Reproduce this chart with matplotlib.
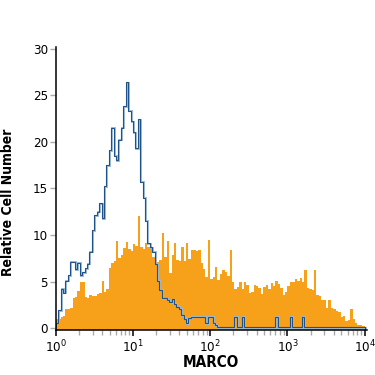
import numpy as np
import matplotlib
matplotlib.use("Agg")
import matplotlib.pyplot as plt
from matplotlib.ticker import LogLocator, FixedLocator
from matplotlib import transforms

plt.rcParams['font.family'] = ['Liberation Sans Narrow', 'DejaVu Sans']
plt.rcParams['font.stretch'] = 'condensed'
plt.rcParams['mathtext.fontset'] = 'custom'
plt.rcParams['mathtext.rm'] = 'Liberation Sans Narrow'
plt.rcParams['mathtext.it'] = 'Liberation Sans Narrow'

# bins: 1/32 decade from 10^0 to 10^4
bins_per_decade = 32
n_decades = 4

# MARCO stained (orange, filled)
marco = [1.0, 1.0, 1.2, 1.3, 2.1, 2.1, 2.2, 3.2, 3.3, 4.0,
         5.0, 5.0, 3.3, 3.2, 3.6, 3.4, 3.5, 3.7, 3.8, 5.1,
         3.9, 4.2, 6.4, 7.0, 7.2, 9.3, 7.5, 7.8, 8.6, 9.2,
         8.5, 8.3, 9.0, 8.8, 12.0, 8.7, 8.5, 9.1, 8.7, 9.0,
         7.6, 7.3, 7.1, 7.3, 10.2, 7.6, 9.3, 5.9, 7.8, 9.1,
         7.3, 7.2, 8.7, 7.2, 9.1, 7.4, 8.4, 8.4, 8.3, 8.4,
         7.0, 6.3, 5.5, 9.5, 5.3, 5.5, 6.6, 5.2, 5.8, 6.2,
         6.0, 5.6, 8.4, 4.9, 4.2, 4.4, 5.0, 4.2, 5.0, 4.6,
         3.8, 3.9, 4.6, 4.5, 4.3, 3.7, 4.4, 4.6, 4.2, 4.8,
         4.5, 5.1, 4.7, 4.3, 3.6, 3.9, 4.5, 4.9, 5.0, 5.3,
         5.1, 5.4, 4.9, 6.2, 4.3, 4.2, 4.1, 6.2, 3.6, 3.4,
         3.0, 3.0, 2.2, 3.0, 2.2, 2.1, 1.8, 1.7, 1.2, 1.3,
         0.8, 0.9, 2.1, 1.0, 0.5, 0.3, 0.3, 0.2]

# isotype control (blue outline)
control = [0.6, 1.9, 4.2, 3.8, 5.1, 5.7, 7.1, 7.1, 6.3, 7.0,
           5.7, 6.0, 6.4, 6.9, 8.2, 10.5, 12.1, 12.5, 13.4, 11.8,
           15.2, 17.5, 19.1, 21.5, 18.5, 18.0, 20.2, 21.5, 23.8, 26.4,
           23.3, 22.2, 21.0, 19.3, 22.4, 15.7, 14.0, 11.5, 9.1, 8.7,
           8.2, 6.9, 5.1, 4.1, 3.2, 3.2, 3.0, 2.8, 3.1, 2.6,
           2.3, 2.1, 1.4, 1.0, 0.5, 1.1, 1.2, 1.2, 1.2, 1.2,
           1.2, 1.2, 0.5, 1.2, 1.2, 0.5, 0.3, 0.1, 0.1, 0.1,
           0.1, 0.1, 0.1, 0.1, 1.2, 0.1, 0.1, 1.2, 0.1, 0.1,
           0.1, 0.1, 0.1, 0.1, 0.1, 0.1, 0.1, 0.1, 0.1, 0.1,
           0.1, 1.2, 0.1, 0.1, 0.1, 0.1, 0.1, 1.2, 0.1, 0.1,
           0.1, 0.1, 1.2, 0.1, 0.1, 0.1, 0.1, 0.1, 0.1, 0.1,
           0.1, 0.1, 0.1, 0.1, 0.1, 0.1, 0.1, 0.1, 0.1, 0.1,
           0.1, 0.1, 0.1, 0.1, 0.1, 0.1, 0.1, 0.1]

y_ticks = [0, 5, 10, 15, 20, 25, 30]

edges = 10 ** (np.arange(bins_per_decade * n_decades + 1) / bins_per_decade)
y0 = -0.2

fig = plt.figure(figsize=(3.75, 3.75), dpi=100)
ax = fig.add_axes([0.1485, 0.12, 0.8302, 0.7555])

ax.stairs(marco, edges, baseline=y0, fill=True, color='#F7A11A', lw=0)

# light blue shadow, then the dark blue line
shadow = transforms.offset_copy(ax.transData, fig=fig, x=1.0, y=-0.5, units='dots')
ax.stairs(control, edges, baseline=y0, fill=False, color='#9DBDD8', lw=1.4,
          transform=shadow)
ax.stairs(control, edges, baseline=y0, fill=False, color='#1F5289', lw=0.8)

ax.set_xscale('log')
ax.set_xlim(1, 10 ** 4.03)
ax.set_ylim(y0, 30.2)

ax.spines['top'].set_visible(False)
ax.spines['right'].set_visible(False)
ax.spines['left'].set_linewidth(1.1)
ax.spines['bottom'].set_linewidth(1.1)

ax.xaxis.set_major_locator(FixedLocator([1, 10, 100, 1000, 10000]))
ax.xaxis.set_minor_locator(LogLocator(base=10, subs=np.arange(2, 10), numticks=20))
ax.yaxis.set_major_locator(FixedLocator(y_ticks))
ax.tick_params(axis='x', which='major', direction='out', length=4, width=1.1,
               color='black', labelsize=9.5, pad=2)
ax.tick_params(axis='x', which='minor', direction='out', length=3.5, width=1.0,
               color='#AAAAAA')
ax.tick_params(axis='y', which='major', direction='out', length=4, width=1.0,
               color='#AAAAAA', labelsize=9.5, pad=1.5)

ax.set_xlabel('MARCO', fontsize=11, fontweight='bold')
ax.set_ylabel('Relative Cell Number', fontsize=10, fontweight='bold')
ax.xaxis.set_label_coords(0.5, -0.09)
ax.yaxis.set_label_coords(-0.13, 0.45)

fig.savefig('out.png', dpi=100)
